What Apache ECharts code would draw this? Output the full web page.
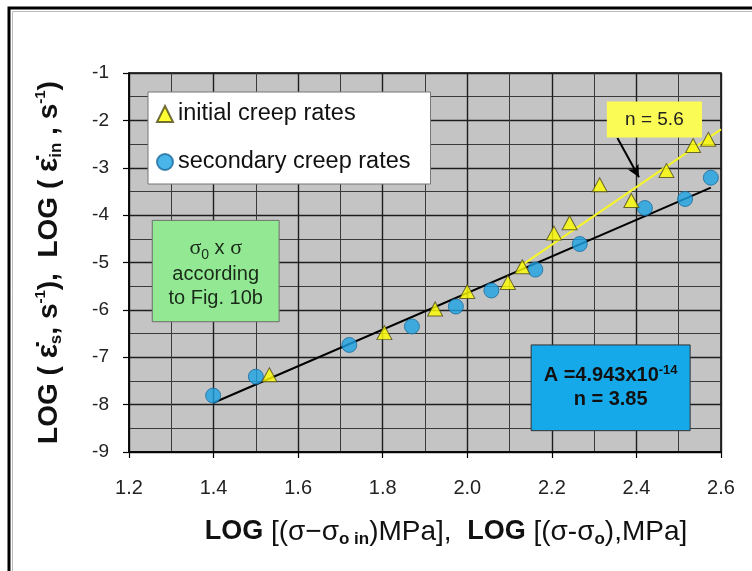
<!DOCTYPE html>
<html><head><meta charset="utf-8">
<script src="https://cdn.jsdelivr.net/npm/echarts@6/dist/echarts.min.js"></script>
<style>html,body{margin:0;padding:0;background:#fff}#c{width:752px;height:571px}</style>
</head><body><div id="c"></div>
<script>
// ---- data ----
const xTickLabels = ['1.2','1.4','1.6','1.8','2.0','2.2','2.4','2.6'];
const yTickLabels = ['-9','-8','-7','-6','-5','-4','-3','-2','-1'];
const initialX = [1.532, 1.804, 1.924, 2.000, 2.096, 2.130, 2.205, 2.242, 2.313, 2.388, 2.471, 2.534, 2.570];
const initialY = [-7.37, -6.48, -5.98, -5.61, -5.42, -5.09, -4.38, -4.16, -3.36, -3.69, -3.06, -2.53, -2.40];
const secondaryX = [1.399, 1.500, 1.721, 1.869, 1.973, 2.057, 2.161, 2.266, 2.420, 2.515, 2.576];
const secondaryY = [-7.81, -7.41, -6.74, -6.35, -5.93, -5.59, -5.15, -4.61, -3.85, -3.66, -3.21];
const fitSecondaryX = [1.400, 2.576];
const fitSecondaryY = [-7.96, -3.42];
const fitInitialX = [2.130, 2.600];
const fitInitialY = [-5.05, -2.19];
const arrowFrom = [2.355, -2.37];
const arrowTo = [2.406, -3.20];
// annotation boxes in data units: [x0, y0, x1, y1]
const boxN56 = [2.330, -1.60, 2.555, -2.36];
const boxGreen = [1.255, -4.11, 1.555, -6.25];
const boxBlue = [2.151, -6.74, 2.527, -8.55];

const FONT = 'Liberation Sans, Arial, sans-serif';
const zip = (a, b) => a.map((v, i) => [v, b[i]]);

const chart = echarts.init(document.getElementById('c'), null, {renderer: 'canvas'});

const axisCommon = {
  type: 'value',
  axisLine: {show: true, onZero: false, lineStyle: {color: '#000', width: 1.5}},
  axisTick: {show: true, length: 6, lineStyle: {color: '#000', width: 1.2}},
  splitLine: {show: true, lineStyle: {color: '#1e1e1e', width: 1.4}},
  minorTick: {show: false, splitNumber: 2},
  minorSplitLine: {show: true, lineStyle: {color: '#3a3a3a', width: 1}}
};

const option = {
  backgroundColor: '#fff',
  animation: false,
  textStyle: {fontFamily: FONT},
  grid: {left: 129, top: 73, right: 31, bottom: 119, show: true,
    backgroundColor: '#c4c4c4', borderColor: '#000', borderWidth: 1.5},
  legend: {
    orient: 'vertical', left: 148, top: 92,
    backgroundColor: '#fff', borderColor: '#777', borderWidth: 1,
    padding: [10, 20, 10, 8], itemGap: 24, itemWidth: 16, itemHeight: 16,
    textStyle: {fontSize: 23.5, color: '#111', fontFamily: FONT, lineHeight: 24},
    data: ['initial creep rates', 'secondary creep rates']
  },
  xAxis: Object.assign({}, axisCommon, {
    min: 1.2, max: 2.6, interval: 0.2,
    axisLabel: {fontSize: 20, color: '#222', margin: 26, fontFamily: FONT,
      formatter: v => xTickLabels[Math.round((v - 1.2) / 0.2)]},
    name: '{b|LOG}{n| [(σ−σ}{sb|o in}{n|)MPa],  }{b|LOG}{n| [(σ-σ}{sb|o}{n|),MPa]}',
    nameLocation: 'middle', nameGap: 64,
    nameTextStyle: {padding: [0, 0, 0, 42], rich: {
      b: {fontSize: 27, fontWeight: 'bold', color: '#111', fontFamily: FONT, lineHeight: 32},
      n: {fontSize: 28, color: '#111', fontFamily: FONT, lineHeight: 32},
      sb: {fontSize: 17, fontWeight: 'bold', color: '#111', fontFamily: FONT, lineHeight: 15, verticalAlign: 'bottom'}
    }}
  }),
  yAxis: Object.assign({}, axisCommon, {
    min: -9, max: -1, interval: 1,
    axisLabel: {fontSize: 19, color: '#222', margin: 20, fontFamily: FONT,
      formatter: v => yTickLabels[Math.round(v + 9)]},
    name: '{b|LOG ( }{e|ε̇}{sb|s}{b|, s}{sup|-1}{b|),  LOG ( }{e|ε̇}{sb|in}{b| , s}{sup|-1}{b|)}',
    nameLocation: 'middle', nameRotate: 90, nameGap: 64,
    nameTextStyle: {rich: {
      b: {fontSize: 28, fontWeight: 'bold', color: '#111', fontFamily: FONT, lineHeight: 32},
      e: {fontSize: 30, fontWeight: 'bold', color: '#111', fontFamily: FONT, lineHeight: 32},
      sb: {fontSize: 17, fontWeight: 'bold', color: '#111', fontFamily: FONT, lineHeight: 14, verticalAlign: 'bottom'},
      sup: {fontSize: 15, fontWeight: 'bold', color: '#111', fontFamily: FONT, lineHeight: 12, verticalAlign: 'top'}
    }}
  }),
  series: [
    {name: 'fit secondary', type: 'line', data: zip(fitSecondaryX, fitSecondaryY), symbol: 'none',
      lineStyle: {color: '#000', width: 2}, z: 3, silent: true},
    {name: 'fit initial', type: 'line', data: zip(fitInitialX, fitInitialY), symbol: 'none',
      lineStyle: {color: '#f5f52a', width: 2.2}, z: 3, silent: true,
      markLine: {silent: true, symbol: ['none', 'arrow'], symbolSize: [9, 12], label: {show: false},
        lineStyle: {color: '#000', width: 2, type: 'solid'},
        data: [[{coord: arrowFrom}, {coord: arrowTo}]]}},
    {name: 'initial creep rates', type: 'scatter', data: zip(initialX, initialY), symbol: 'triangle',
      symbolSize: [15, 14], itemStyle: {color: '#ffff00', borderColor: '#4d4a1a', borderWidth: 1}, z: 5},
    {name: 'secondary creep rates', type: 'scatter', data: zip(secondaryX, secondaryY), symbol: 'circle',
      symbolSize: 15, itemStyle: {color: '#1ca3e3', borderColor: '#1d6c9c', borderWidth: 1}, z: 4}
  ]
};
chart.setOption(option);

function boxPx(b) {
  const p0 = chart.convertToPixel({gridIndex: 0}, [b[0], b[1]]);
  const p1 = chart.convertToPixel({gridIndex: 0}, [b[2], b[3]]);
  return {x: p0[0], y: p0[1], w: p1[0] - p0[0], h: p1[1] - p0[1]};
}
const bN = boxPx(boxN56), bG = boxPx(boxGreen), bB = boxPx(boxBlue);

chart.setOption({graphic: [
  {type: 'rect', shape: {x: 9, y: 8, width: 800, height: 620}, style: {fill: 'none', stroke: '#000', lineWidth: 3}, z: 100, silent: true},
  {type: 'rect', shape: {x: 12.5, y: 11.5, width: 800, height: 620}, style: {fill: 'none', stroke: '#bbb', lineWidth: 1}, z: 100, silent: true},
  {type: 'rect', shape: {x: bN.x, y: bN.y, width: bN.w, height: bN.h}, style: {fill: '#fbfb55', stroke: 'none'}, z: 50},
  {type: 'text', x: bN.x + bN.w / 2, y: bN.y + bN.h / 2, z: 51,
    style: {text: 'n = 5.6', fontSize: 19, fontFamily: FONT, fill: '#222', align: 'center', verticalAlign: 'middle'}},
  {type: 'rect', shape: {x: bG.x, y: bG.y, width: bG.w, height: bG.h}, style: {fill: '#93e993', stroke: '#6d6d6d', lineWidth: 1}, z: 50},
  {type: 'text', x: bG.x + bG.w / 2, y: bG.y + bG.h / 2 + 1, z: 51,
    style: {text: '{s|σ}{sb|0}{n| x }{s|σ}\n{n|according}\n{n|to Fig. 10b}', align: 'center', verticalAlign: 'middle',
      rich: {
        s: {fontSize: 22, fontFamily: 'Liberation Serif, serif', fill: '#1a2a1a', lineHeight: 28},
        sb: {fontSize: 14, fontFamily: FONT, fill: '#1a2a1a', lineHeight: 12, verticalAlign: 'bottom'},
        n: {fontSize: 20, fontFamily: FONT, fill: '#1a2a1a', lineHeight: 24}
      }}},
  {type: 'rect', shape: {x: bB.x, y: bB.y, width: bB.w, height: bB.h}, style: {fill: '#16a9ea', stroke: '#333', lineWidth: 1}, z: 50},
  {type: 'text', x: bB.x + bB.w / 2, y: bB.y + bB.h / 2, z: 51,
    style: {text: '{b|A =4.943x10}{sup|-14}\n{b|n = 3.85}', align: 'center', verticalAlign: 'middle',
      rich: {
        b: {fontSize: 20, fontWeight: 'bold', fontFamily: FONT, fill: '#111', lineHeight: 24},
        sup: {fontSize: 13, fontWeight: 'bold', fontFamily: FONT, fill: '#111', lineHeight: 12, verticalAlign: 'top'}
      }}}
]});
</script>
</body></html>
